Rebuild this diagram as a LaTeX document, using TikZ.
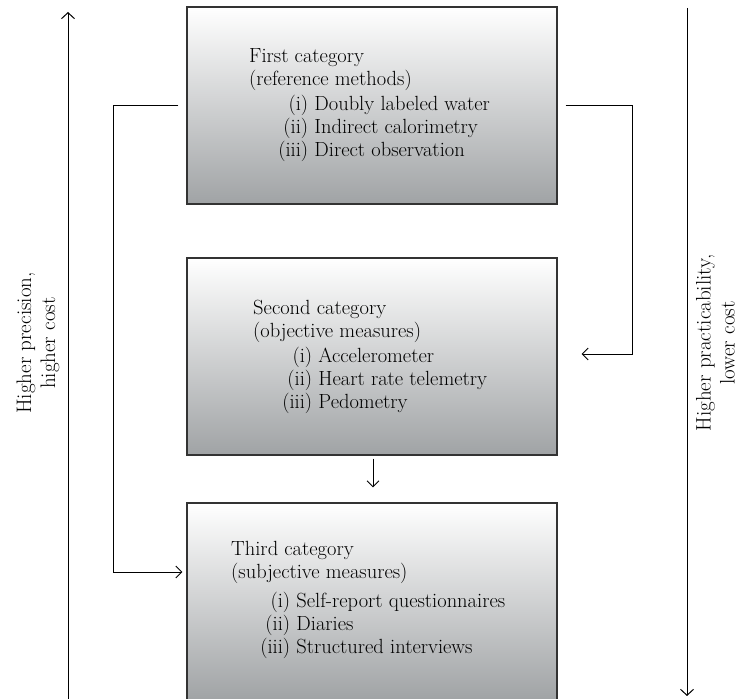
\documentclass[tikz,border=0pt]{standalone}
\usetikzlibrary{arrows.meta}

\definecolor{boxbottom}{RGB}{160,163,165}
\newlength{\labelend}
\setlength{\labelend}{59bp}
\newcommand{\catitem}[2]{\hspace*{\labelend}\llap{#1}\ #2}

\tikzset{
  catbox/.style={draw=black!80,line width=1.1bp,top color=white,bottom color=boxbottom,
    minimum width=370bp,minimum height=197bp,inner sep=0pt},
  cattext/.style={anchor=base west,align=left,inner sep=0pt,
    font=\fontsize{20.5bp}{23bp}\selectfont},
  sidetext/.style={rotate=90,align=center,inner sep=0pt,
    font=\fontsize{21bp}{24bp}\selectfont},
  conn/.style={line width=0.9bp,-{Straight Barb[length=6bp,width=12bp]}},
  axis/.style={line width=1bp,-{Straight Barb[length=6bp,width=13bp]}}
}

\begin{document}
\begin{tikzpicture}[x=1bp,y=1bp]
        \useasboundingbox (0,0) rectangle (739,699);

        % the three categories
        \node[catbox] (first) at (372,593.5) {};
        \node[catbox] (second) at (372,342.5) {};
        \node[catbox] (third) at (372,97.5) {};

        % text blocks, placed by the baseline of their last line
        \node[cattext] (firsttext) at (249,542) {First category\\
          (reference methods)\\[2.5bp]
          \catitem{(i)}{Doubly labeled water}\\
          \catitem{(ii)}{Indirect calorimetry}\\
          \catitem{(iii)}{Direct observation}};
        \node[cattext] (secondtext) at (253,290) {Second category\\
          (objective measures)\\[2.5bp]
          \catitem{(i)}{Accelerometer}\\
          \catitem{(ii)}{Heart rate telemetry}\\
          \catitem{(iii)}{Pedometry}};
        \node[cattext] (thirdtext) at (231,45) {Third category\\
          (subjective measures)\\[6bp]
          \catitem{(i)}{Self-report questionnaires}\\
          \catitem{(ii)}{Diaries}\\
          \catitem{(iii)}{Structured interviews}};

        % connectors
        \draw[conn,shorten <=8bp,shorten >=4bp] (first.west) -- ++(-73,0) |- ([yshift=29.5bp]third.west);
        \draw[conn,shorten <=8bp,shorten >=24bp] (first.east) -- ++(75,0) |- ([yshift=2.5bp]second.east);
        \draw[conn,shorten <=3bp,shorten >=15bp] ([xshift=1bp]second.south) -- ([xshift=1bp]third.north);

        % the two axes
        \coordinate (precbot) at (68,0);
        \coordinate (prectop) at (68,687);
        \coordinate (practop) at (687,691);
        \coordinate (pracbot) at (687,3);
        \draw[axis] (precbot) -- (prectop);
        \draw[axis] (practop) -- (pracbot);

        \node[sidetext] (preclabel) at (38,356) {Higher precision,\\ higher cost};
        \node[sidetext] (praclabel) at (715.5,356) {Higher practicability,\\ lower cost};
      \end{tikzpicture}
\end{document}
